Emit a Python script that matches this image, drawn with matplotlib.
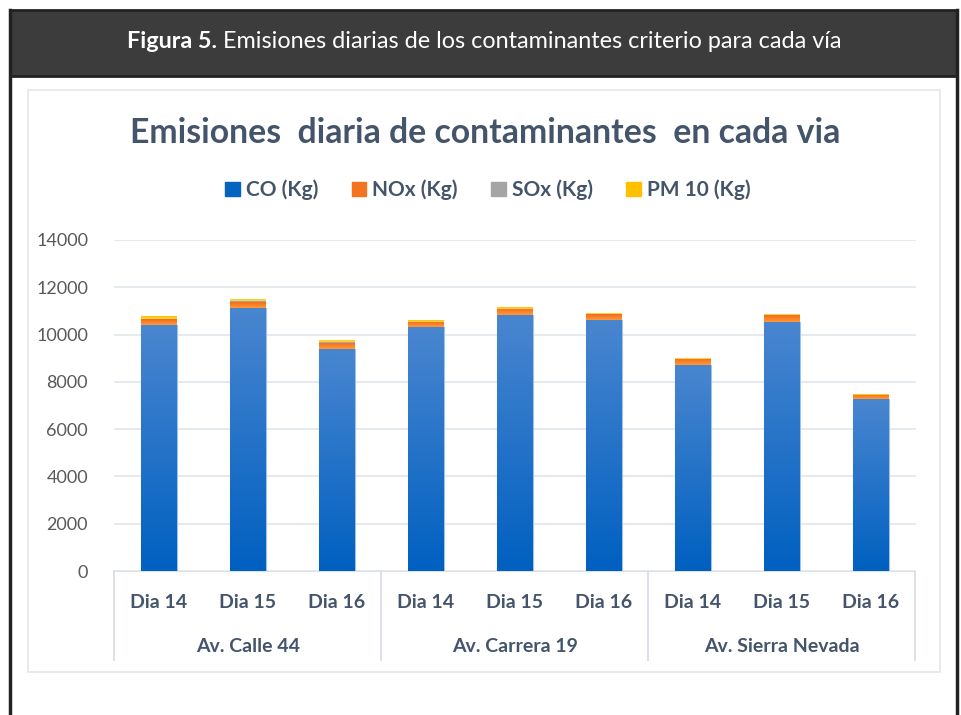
import matplotlib
matplotlib.use("Agg")
import matplotlib.pyplot as plt
import numpy as np
from matplotlib.patches import Rectangle
from matplotlib.colors import LinearSegmentedColormap

groups = ["Av. Calle 44", "Av. Carrera 19", "Av. Sierra Nevada"]
days = ["Dia 14", "Dia 15", "Dia 16"]
co = [10400, 11140, 9380, 10310, 10830, 10620, 8700, 10550, 7260]
nox = [250, 250, 270, 230, 260, 250, 270, 260, 190]
sox = [15, 15, 15, 10, 10, 10, 10, 10, 10]
pm10 = [110, 100, 100, 80, 60, 50, 50, 50, 30]
series_names = ["CO (Kg)", "NOx (Kg)", "SOx (Kg)", "PM 10 (Kg)"]
series_colors = ["#0563C1", "#F4731F", "#A5A5A5", "#FFC000"]
yticks = [0, 2000, 4000, 6000, 8000, 10000, 12000, 14000]

W, H = 962, 715
fig = plt.figure(figsize=(W / 100, H / 100), dpi=100)
FONT = "Lato"
TXT = "#44546A"

def fx(x):
    return x / W

def fy(y):
    return 1 - y / H

# Outer frame and header
bg = fig.add_axes([0, 0, 1, 1])
bg.set_xlim(0, W)
bg.set_ylim(H, 0)
bg.axis("off")
bg.add_patch(Rectangle((10, 10), 947, 66, facecolor="#3C3C3C", edgecolor="#222222", lw=2))
bg.plot([10, 10], [10, H], color="#222222", lw=2.5)
bg.plot([957, 957], [10, H], color="#222222", lw=2.5)
bg.add_patch(Rectangle((28, 90), 912, 582, facecolor="white", edgecolor="#E3E8EE", lw=1.2))
t1 = bg.text(0, 41, "Figura 5.", color="white", fontsize=16.8, fontweight="bold",
             family=FONT, ha="left", va="center")
t2 = bg.text(0, 41, " Emisiones diarias de los contaminantes criterio para cada vía",
             color="white", fontsize=16.8, family=FONT, ha="left", va="center")
fig.canvas.draw()
r = fig.canvas.get_renderer()
w1 = t1.get_window_extent(r).width
w2 = t2.get_window_extent(r).width
start = 484 - (w1 + w2) / 2
t1.set_x(start)
t2.set_x(start + w1)

# Chart title
bg.text(485, 133, "Emisiones  diaria de contaminantes  en cada via", color=TXT,
        fontsize=24.3, fontweight="bold", family=FONT, ha="center", va="center")

# Main axes
left, right, top, bottom = 114.5, 915.5, 240, 571
ax = fig.add_axes([fx(left), fy(bottom), fx(right - left), (bottom - top) / H])
ax.set_xlim(-0.5, 8.5)
ax.set_ylim(0, 14000)
for s in ax.spines.values():
    s.set_visible(False)
ax.set_yticks(yticks)
ax.set_yticklabels([str(v) for v in yticks], fontsize=13, color="#595959", family=FONT)
ax.tick_params(axis="y", length=0, pad=19)
ax.set_xticks([])
ax.grid(axis="y", color="#E3E8EE", lw=1.3)
ax.set_axisbelow(True)

x = np.arange(9)
bw = 0.4
co_a = np.array(co, float)
nox_a = np.array(nox, float)
sox_a = np.array(sox, float)
pm_a = np.array(pm10, float)

cmap_blue = LinearSegmentedColormap.from_list("b", ["#0060C0", "#4A86D0"])
cmap_or = LinearSegmentedColormap.from_list("o", ["#F26A1B", "#FF9A3C"])
cmap_ye = LinearSegmentedColormap.from_list("y", ["#FFBE00", "#FFD84A"])

grad = np.linspace(0, 1, 256).reshape(-1, 1)
layers = [(co_a, np.zeros(9), cmap_blue, "#0563C1"),
          (nox_a, co_a, cmap_or, "#F4731F"),
          (sox_a, co_a + nox_a, None, "#A5A5A5"),
          (pm_a, co_a + nox_a + sox_a, cmap_ye, "#FFC000")]
for vals, base, cm, col in layers:
    bars = ax.bar(x, vals, bw, bottom=base, color=col,
                  edgecolor="#9DC3E6" if cm is cmap_blue else "none", lw=0.8, zorder=2)
    if cm is not None:
        for b in bars:
            bx, by = b.get_x(), b.get_y()
            bwid, bh = b.get_width(), b.get_height()
            g = grad if cm is cmap_blue else grad[::-1]
            im = ax.imshow(g, cmap=cm, origin="lower", aspect="auto",
                           extent=(bx, bx + bwid, by, by + bh), zorder=2.5)
            im.set_clip_path(b)
ax.set_xlim(-0.5, 8.5)
ax.set_ylim(0, 14000)

# Legend
handles = [Rectangle((0, 0), 1, 1, color=c) for c in series_colors]
fig.legend(handles, series_names, loc="center", bbox_to_anchor=(fx(488), fy(190)), ncol=4,
           frameon=False, handlelength=0.7, handleheight=0.7, handletextpad=0.3,
           columnspacing=1.6, prop={"family": FONT, "size": 15, "weight": "bold"},
           labelcolor=TXT)

# Category axis
for i, d in enumerate(days * 3):
    bg.text(159 + 89 * i, 603, d, fontsize=14, color=TXT, family=FONT, fontweight="bold",
            ha="center", va="center")
for j, gname in enumerate(groups):
    bg.text(248 + 267 * j, 647, gname, fontsize=14, color=TXT, family=FONT, fontweight="bold",
            ha="center", va="center")
bg.plot([left, right], [571, 571], color="#D9DEE5", lw=1.3)
for xs in [left, left + 267, left + 534, right]:
    bg.plot([xs, xs], [571, 660], color="#D9DEE5", lw=1.3)

fig.savefig("out.png", dpi=100)
